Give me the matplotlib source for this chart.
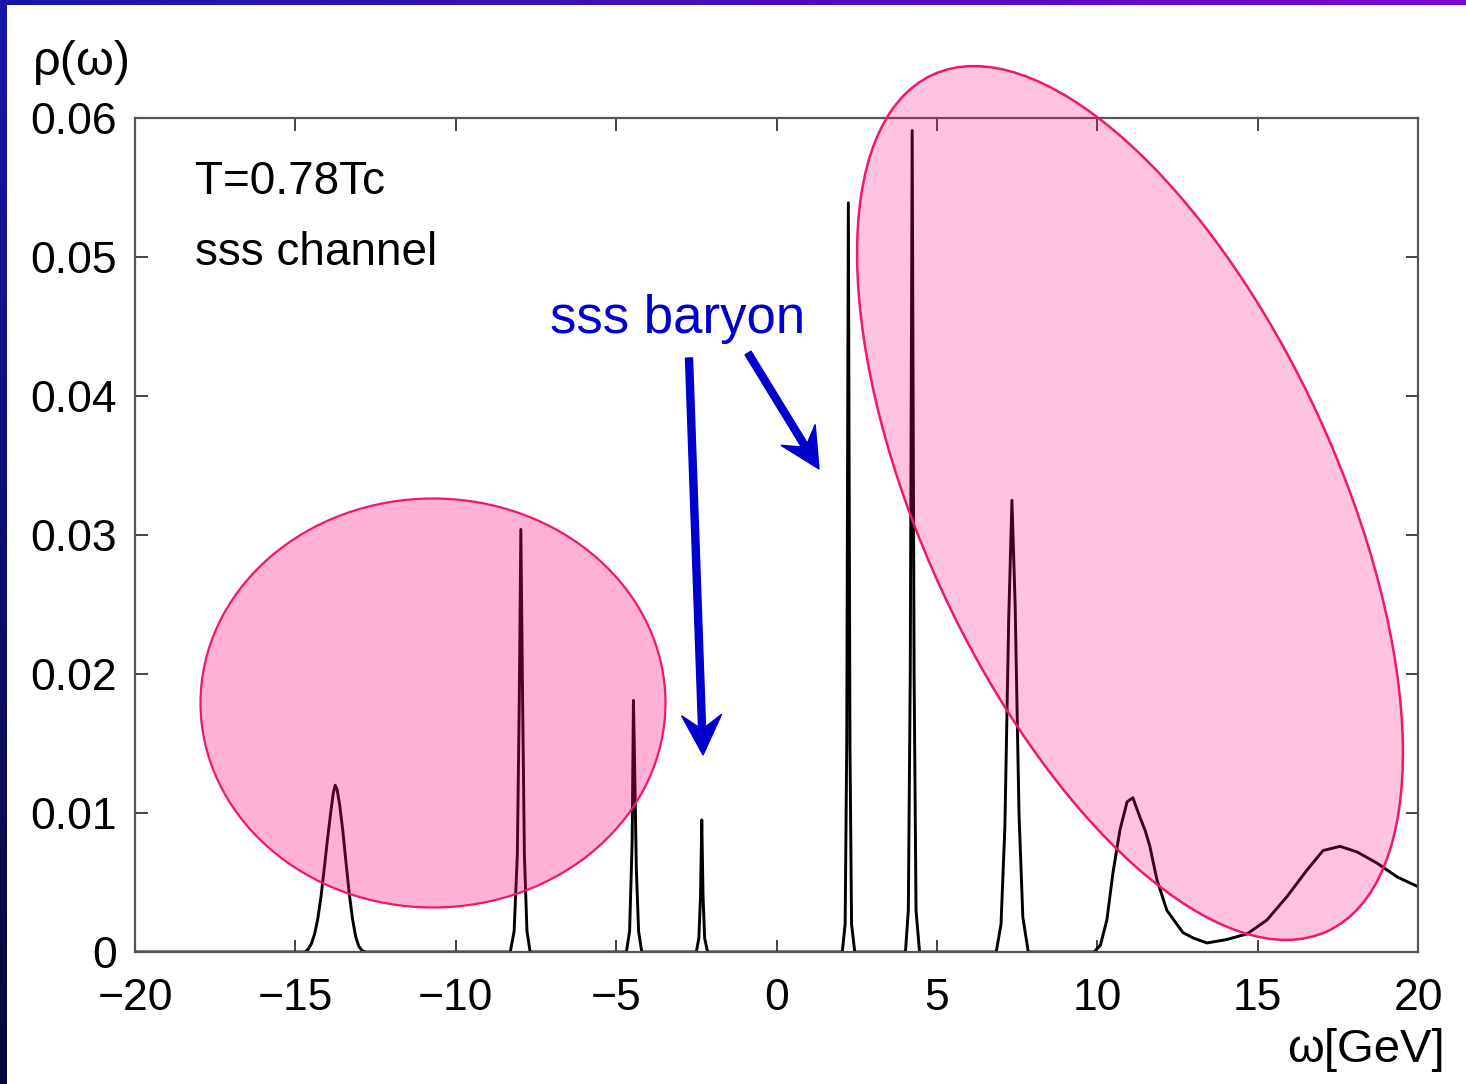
import matplotlib
matplotlib.use("Agg")
import matplotlib.pyplot as plt
import numpy as np
from matplotlib.patches import Ellipse, FancyArrow

plt.rcParams["font.family"] = ["Liberation Sans", "DejaVu Sans"]

# spectral function (omega in GeV)
omega = [-20.0, -14.7, -14.6, -14.5, -14.4, -14.3, -14.2, -14.1, -14.0, -13.9,
         -13.82, -13.76, -13.7, -13.62, -13.52, -13.42, -13.32, -13.22,
         -13.12, -13.02, -12.92, -12.82,
         -8.3, -8.18, -8.08, -8.02, -7.97, -7.92, -7.86, -7.78, -7.68,
         -4.68, -4.58, -4.5, -4.46, -4.42, -4.37, -4.3, -4.2,
         -2.5, -2.42, -2.37, -2.33, -2.29, -2.24, -2.15,
         2.05, 2.14, 2.19, 2.24, 2.29, 2.34, 2.44,
         4.02, 4.11, 4.17, 4.23, 4.29, 4.35, 4.46,
         6.85, 7.0, 7.12, 7.24, 7.34, 7.44, 7.56, 7.68, 7.85,
         9.9, 10.1, 10.3, 10.49, 10.71, 10.93, 11.11, 11.33, 11.5, 11.64,
         11.86, 12.17, 12.67, 13.0, 13.42, 14.04, 14.67, 15.29, 15.92, 16.54,
         17.04, 17.57, 18.10, 18.72, 19.35, 20.0]
rho = [0.0, 0.0, 0.0002, 0.0006, 0.0013, 0.0024, 0.0040, 0.0060, 0.0081, 0.0100,
       0.0114, 0.0120, 0.0117, 0.0106, 0.0087, 0.0064, 0.0042, 0.0024,
       0.0011, 0.0004, 0.0001, 0.0,
       0.0, 0.0015, 0.0070, 0.0180, 0.0304, 0.0190, 0.0070, 0.0015, 0.0,
       0.0, 0.0015, 0.0080, 0.0181, 0.0130, 0.0060, 0.0015, 0.0,
       0.0, 0.0010, 0.0040, 0.0095, 0.0040, 0.0010, 0.0,
       0.0, 0.0020, 0.0150, 0.0539, 0.0150, 0.0020, 0.0,
       0.0, 0.0030, 0.0200, 0.0591, 0.0200, 0.0030, 0.0,
       0.0, 0.0020, 0.0090, 0.0240, 0.0325, 0.0250, 0.0100, 0.0025, 0.0,
       0.0, 0.0005, 0.0023, 0.0057, 0.0088, 0.0108, 0.0111, 0.0097, 0.0087, 0.0076,
       0.0052, 0.0030, 0.0014, 0.0010, 0.00065, 0.0009, 0.0013, 0.0023, 0.0040, 0.0059,
       0.0073, 0.0076, 0.0072, 0.0064, 0.0054, 0.0047]

xticks = [-20, -15, -10, -5, 0, 5, 10, 15, 20]
yticks = [0, 0.01, 0.02, 0.03, 0.04, 0.05, 0.06]
ytick_labels = ["0", "0.01", "0.02", "0.03", "0.04", "0.05", "0.06"]

W, H = 1466, 1084
fig = plt.figure(figsize=(W / 100, H / 100), dpi=100)
fig.patch.set_facecolor("white")

# slide border (blue gradient strips)
bg = fig.add_axes([0, 0, 1, 1], zorder=-5)
bg.set_xlim(0, W)
bg.set_ylim(H, 0)
bg.axis("off")
top = np.linspace(0, 1, 256)[None, :, None]
c0, c1 = np.array([0.09, 0.09, 0.66]), np.array([0.47, 0.02, 0.85])
bg.imshow(c0 + top * (c1 - c0), extent=(0, W, 5, 0), aspect="auto")
left = np.linspace(0, 1, 256)[:, None, None]
c2, c3 = np.array([0.09, 0.09, 0.66]), np.array([0.02, 0.03, 0.22])
bg.imshow(c2 + left * (c3 - c2), extent=(0, 7, H, 0), aspect="auto")

ax = fig.add_axes([135 / W, 1 - 952 / H, (1418 - 135) / W, (952 - 118) / H])
ax.plot(omega, rho, color="black", lw=2.1, zorder=2)
ax.set_xlim(-20, 20)
ax.set_ylim(0, 0.06)
ax.set_xticks(xticks)
ax.set_xticklabels([str(t).replace("-", "\u2212") for t in xticks])
ax.set_yticks(yticks)
ax.set_yticklabels(ytick_labels)
ax.tick_params(direction="in", length=9, width=1.4, labelsize=32,
               top=True, right=True, color="#444444")
ax.tick_params(axis="x", pad=19)
ax.tick_params(axis="y", pad=13)
for s in ax.spines.values():
    s.set_color("#555555")
    s.set_linewidth(1.6)

ax.text(-18.13, 0.0554, "T=0.78Tc", fontsize=33, va="center", ha="left")
ax.text(-18.13, 0.0503, "sss channel", fontsize=33, va="center", ha="left")

# highlight ellipses (in inches, so they keep their shape)
tr = fig.dpi_scale_trans
e1 = Ellipse((4.33, (H - 703) / 100), 4.65, 4.09, angle=0, transform=tr,
             facecolor=(1.0, 0.0, 0.48, 0.31), edgecolor="#f0186e", lw=1.6, zorder=5)
e2 = Ellipse((11.30, (H - 503) / 100), 9.43, 4.15, angle=-65.25, transform=tr,
             facecolor=(1.0, 0.0, 0.48, 0.24), edgecolor="#f0186e", lw=1.8, zorder=5)
fig.patches.extend([e1, e2])

# arrows and label
def arrow(x0, y0, x1, y1):
    a = FancyArrow(x0 / 100, (H - y0) / 100, (x1 - x0) / 100, (y0 - y1) / 100,
                   width=0.07, head_width=0.40, head_length=0.40, overhang=0.3,
                   length_includes_head=True, color="#0000cc", transform=tr,
                   zorder=6)
    fig.patches.append(a)

arrow(689, 358, 703, 755)
arrow(748, 353, 819, 469)
fig.text(678 / W, 1 - 333 / H, "sss baryon", color="#0000cc", fontsize=38,
         ha="center", va="baseline")

fig.text(33 / W, 1 - 75 / H, "\u03c1(\u03c9)", fontsize=35, ha="left", va="baseline")
fig.text(1445 / W, 1 - 1062 / H, "\u03c9[GeV]", fontsize=34, ha="right", va="baseline")

fig.savefig("out.png", dpi=100)
